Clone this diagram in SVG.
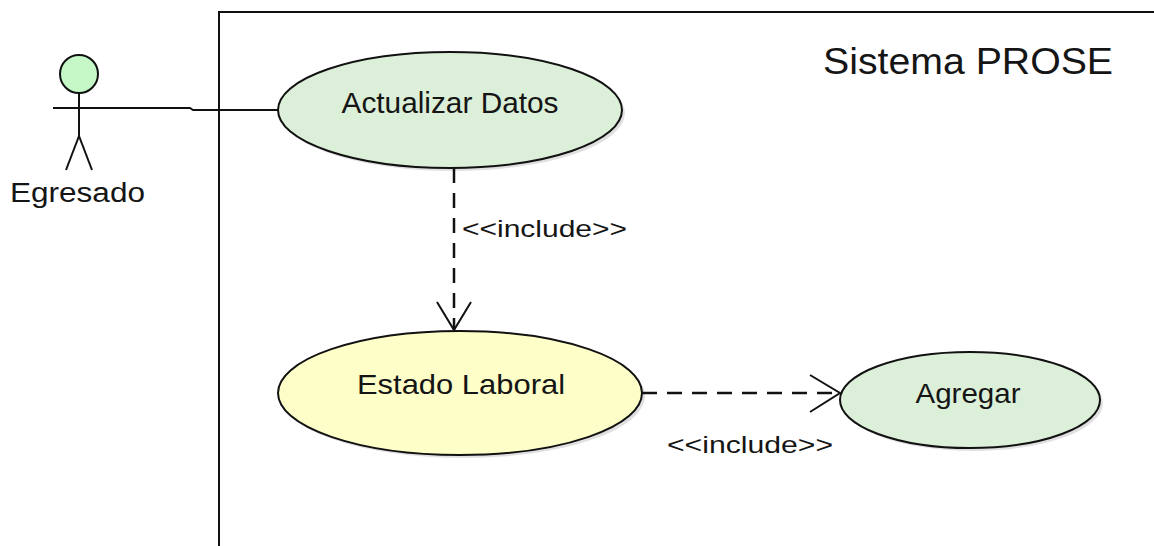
<svg xmlns="http://www.w3.org/2000/svg" width="1154" height="546" viewBox="0 0 1154 546">
<style>
  text { font-family: "Liberation Sans", Arial, sans-serif; fill: #151515; }
  .uc { stroke: #111; stroke-width: 2; }
  .shadow { fill: #000; opacity: 0.12; }
  .line { stroke: #111; stroke-width: 2; fill: none; }
  .dash { stroke: #111; stroke-width: 2.5; fill: none; stroke-dasharray: 15 10; }
  .head { stroke: #111; stroke-width: 2; fill: none; }
</style>
<rect width="1154" height="546" fill="#ffffff"/>
<g id="system">
  <polyline class="line" points="219,546 219,12 1154,12"/>
  <text x="823" y="74" font-size="37" textLength="290" lengthAdjust="spacingAndGlyphs">Sistema PROSE</text>
</g>
<g id="actor-egresado">
  <circle cx="79" cy="74" r="19" fill="#c6f7c6" stroke="#111" stroke-width="2"/>
  <line class="line" x1="79" y1="93" x2="79" y2="137"/>
  <line class="line" x1="53" y1="108" x2="80" y2="108"/>
  <line class="line" x1="79" y1="136" x2="66" y2="170"/>
  <line class="line" x1="79" y1="136" x2="92" y2="170"/>
  <text x="10" y="202" font-size="27" textLength="135" lengthAdjust="spacingAndGlyphs">Egresado</text>
</g>
<g id="uc-actualizar">
  <ellipse class="shadow" cx="453" cy="113" rx="172" ry="58"/>
  <ellipse class="uc" cx="450" cy="110" rx="172" ry="58" fill="#dcefd8"/>
  <text x="450" y="113" font-size="29" text-anchor="middle" textLength="217" lengthAdjust="spacingAndGlyphs">Actualizar Datos</text>
</g>
<g id="uc-estado">
  <ellipse class="shadow" cx="463" cy="396" rx="182" ry="62"/>
  <ellipse class="uc" cx="460" cy="393" rx="182" ry="62" fill="#fefec8"/>
  <text x="461" y="394" font-size="28" text-anchor="middle" textLength="208" lengthAdjust="spacingAndGlyphs">Estado Laboral</text>
</g>
<g id="uc-agregar">
  <ellipse class="shadow" cx="973" cy="403" rx="130" ry="48"/>
  <ellipse class="uc" cx="970" cy="400" rx="130" ry="48" fill="#dcefd8"/>
  <text x="968" y="403" font-size="28" text-anchor="middle" textLength="105" lengthAdjust="spacingAndGlyphs">Agregar</text>
</g>
<g id="connectors">
  <polyline class="line" points="80,108 190,108 193,110 278,110"/>
  <line class="dash" x1="454" y1="168" x2="454" y2="329"/>
  <polyline class="head" points="437,302 454,330 471,302"/>
  <text x="462" y="237" font-size="24" textLength="165" lengthAdjust="spacingAndGlyphs">&lt;&lt;include&gt;&gt;</text>
  <line class="dash" x1="642" y1="393" x2="839" y2="393"/>
  <polyline class="head" points="810,375 840,393 810,412"/>
  <text x="667" y="453" font-size="24" textLength="166" lengthAdjust="spacingAndGlyphs">&lt;&lt;include&gt;&gt;</text>
</g>
</svg>
